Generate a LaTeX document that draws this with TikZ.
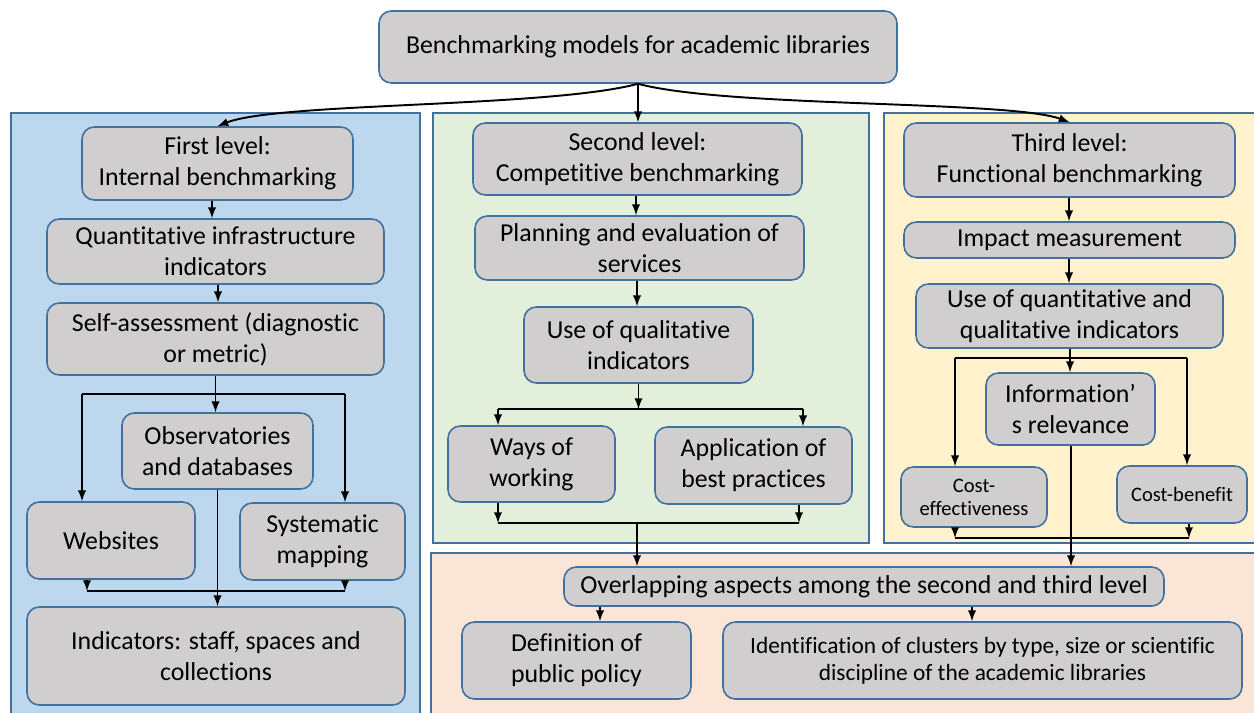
\documentclass[tikz,border=0pt]{standalone}
\usepackage{fontspec}
\setmainfont{Carlito}[Ligatures=NoCommon]
\usepackage{tikz}
\usetikzlibrary{shapes,arrows}

\definecolor{boxgray}{HTML}{D0CECE}
\definecolor{edgeblue}{HTML}{41719C}
\definecolor{firstbg}{HTML}{BDD7EE}
\definecolor{secondbg}{HTML}{E2EFDA}
\definecolor{thirdbg}{HTML}{FFF2CC}
\definecolor{sharedbg}{HTML}{FBE5D6}

\begin{document}
\begin{tikzpicture}[
    x=0.02cm, y=-0.02cm,
    font=\fontsize{14.7}{17.6}\selectfont,
    level/.style={draw=edgeblue, line width=0.8pt},
    box/.style={draw=edgeblue, fill=boxgray, line width=0.9pt, rounded corners=7pt,
                rectangle, align=center, inner sep=0pt},
    size/.style 2 args={minimum width=#1*0.02cm, minimum height=#2*0.02cm},
    small/.style={font=\fontsize{11.7}{13.2}\selectfont},
    arrow/.style={->, >=latex, line width=1.1pt},
    line/.style={line width=1.1pt}
]
\useasboundingbox (0,0) rectangle (1254,713);
\clip (0,0) rectangle (1254,713);

% Level panels
\draw[level, fill=firstbg]  (11,113) rectangle (420,720);
\draw[level, fill=secondbg] (433,113) rectangle (869,543);
\draw[level, fill=thirdbg]  (884,113) rectangle (1260,543);
\draw[level, fill=sharedbg] (431,553) rectangle (1260,720);

% Root
\node[box, size={518}{72}] (root) at (638,47) {Benchmarking models for academic libraries};

% First level
\node[box, size={271}{73}] (first) at (217.5,163.5) {First level:\\Internal benchmarking};
\node[box, size={337}{65}] (quant) at (215.5,251.5) {Quantitative infrastructure\\indicators};
\node[box, size={337}{72}] (selfeval) at (215.5,339) {Self-assessment (diagnostic\\or metric)};
\node[box, size={191}{76}] (observ) at (217.5,451) {Observatories\\and databases};
\node[box, size={168}{77}] (websites) at (111,540.5) {Websites};
\node[box, size={165}{77}] (mapping) at (322.5,541.5) {Systematic\\mapping};
\node[box, size={378}{98}] (indicators) at (216,656) {Indicators: staff, spaces and\\collections};

% Second level
\node[box, size={329}{72}] (second) at (637.5,159) {Second level:\\Competitive benchmarking};
\node[box, size={329}{64}] (planning) at (639.5,248) {Planning and evaluation of\\services};
\node[box, size={229}{76}] (qualit) at (638.5,345) {Use of qualitative\\indicators};
\node[box, size={167}{76}] (ways) at (531.5,464) {Ways of\\working};
\node[box, size={197}{77}] (practices) at (753.5,465.5) {Application of\\best practices};

% Third level
\node[box, size={331}{74}] (third) at (1069.5,160) {Third level:\\Functional benchmarking};
\node[box, size={331}{36}] (impact) at (1069.5,240) {Impact measurement};
\node[box, size={307}{64}] (quantqual) at (1069.5,316) {Use of quantitative and\\qualitative indicators};
\node[box, size={169}{72}] (relevance) at (1070.5,409) {Information’\\s relevance};
\node[box, size={146}{60}, small] (costeff) at (974,497) {Cost-\\effectiveness};
\node[box, size={130}{57}, small] (costben) at (1182,494.5) {Cost-benefit};

% Shared aspects
\node[box, size={600}{39}] (overlap) at (864,586.5) {Overlapping aspects among the second and third level};
\node[box, size={229}{77}] (policy) at (576.5,660.5) {Definition of\\public policy};
\node[box, size={519}{77}, font=\fontsize{13.3}{15.6}\selectfont] (clusters) at (982.5,660.5)
    {Identification of clusters by type, size or scientific\\discipline of the academic libraries};

% Branch points
\coordinate (forkA) at (82,394);
\coordinate (forkB) at (345,394);
\coordinate (joinA) at (87,591);
\coordinate (joinB) at (345,591);
\coordinate (forkC) at (498,409);
\coordinate (forkD) at (803,409);
\coordinate (joinC) at (498,523);
\coordinate (joinD) at (799,523);
\coordinate (joinMid) at (637,523);
\coordinate (forkE) at (955,358);
\coordinate (forkF) at (1187,358);
\coordinate (joinE) at (955,538);
\coordinate (joinF) at (1189,538);

% Connections from the root
\draw[arrow] (root.south) .. controls +(-90,24) and +(60,-24) .. (first.north);
\draw[arrow] (root.south) -- (root.south |- second.north);
\draw[arrow] (root.south) .. controls +(90,24) and +(-60,-22) .. (third.north);

% First level connections
\draw[arrow] (first.south -| 212,0) -- (212,0 |- quant.north);
\draw[arrow] (quant.south -| 218,0) -- (218,0 |- selfeval.north);
\draw[line] (selfeval.south) -- (selfeval.south |- forkA);
\draw[line] (forkA) -- (forkB);
\draw[arrow] (selfeval.south |- forkA) -- (selfeval.south |- observ.north);
\draw[arrow] (forkA) -- (forkA |- websites.north);
\draw[arrow] (forkB) -- (forkB |- mapping.north);
\draw[arrow] (joinA |- websites.south) -- (joinA);
\draw[arrow] (joinB |- mapping.south) -- (joinB);
\draw[line] (joinA) -- (joinB);
\draw[arrow] (observ.south) -- (observ.south |- indicators.north);

% Second level connections
\draw[arrow] (second.south -| 636,0) -- (636,0 |- planning.north);
\draw[arrow] (planning.south -| 637,0) -- (637,0 |- qualit.north);
\draw[arrow] (qualit.south) -- (qualit.south |- forkC);
\draw[line] (forkC) -- (forkD);
\draw[arrow] (forkC) -- (forkC |- ways.north);
\draw[arrow] (forkD) -- (forkD |- practices.north);
\draw[arrow] (joinC |- ways.south) -- (joinC);
\draw[arrow] (joinD |- practices.south) -- (joinD);
\draw[line] (joinC) -- (joinD);
\draw[arrow] (joinMid) -- (joinMid |- overlap.north);

% Third level connections
\draw[arrow] (third.south -| 1069,0) -- (1069,0 |- impact.north);
\draw[arrow] (impact.south -| 1069,0) -- (1069,0 |- quantqual.north);
\draw[line] (forkE) -- (forkF);
\draw[arrow] (quantqual.south -| 1070,0) -- (1070,0 |- relevance.north);
\draw[arrow] (forkE) -- (forkE |- costeff.north);
\draw[arrow] (forkF) -- (forkF |- costben.north);
\draw[arrow] (joinE |- costeff.south) -- (joinE);
\draw[arrow] (joinF |- costben.south) -- (joinF);
\draw[line] (joinE) -- (joinF);
\draw[arrow] (relevance.south -| 1071,0) -- (1071,0 |- overlap.north);

% Shared aspects connections
\draw[arrow] (overlap.south -| 600,0) -- (600,0 |- policy.north);
\draw[arrow] (overlap.south -| 972,0) -- (972,0 |- clusters.north);

\end{tikzpicture}
\end{document}
